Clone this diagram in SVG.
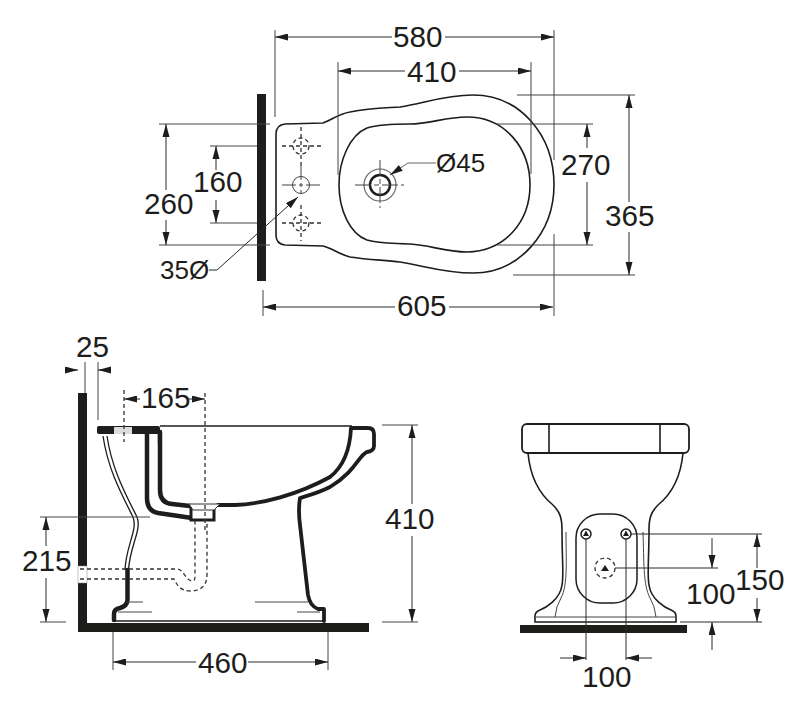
<svg xmlns="http://www.w3.org/2000/svg" width="806" height="711" viewBox="0 0 806 711">
<style>
text{font-family:"Liberation Sans",Arial,sans-serif;font-size:29.700px;fill:#1d1d1b}
.d{fill:none;stroke:#2a2a2a;stroke-width:1}
.e{fill:none;stroke:#444;stroke-width:1}
.m{fill:none;stroke:#1d1d1b;stroke-width:1.600}
.t{fill:none;stroke:#1d1d1b;stroke-width:4.500;stroke-linejoin:round;stroke-linecap:round}
.b{fill:none;stroke:#1d1d1b;stroke-width:3.800;stroke-linejoin:round;stroke-linecap:round}
.dash{fill:none;stroke:#333;stroke-width:1.300;stroke-dasharray:4 3}
.w{fill:#1d1d1b}
.o{font-size:26px}
</style>
<defs>
<marker id="m" markerUnits="userSpaceOnUse" markerWidth="14" markerHeight="8" refX="13" refY="3.500" orient="auto"><path d="M0 0L13 3.500L0 7z" fill="#1d1d1b"/></marker>
<marker id="s" markerUnits="userSpaceOnUse" markerWidth="14" markerHeight="8" refX="0" refY="3.500" orient="auto"><path d="M13 0L0 3.500L13 7z" fill="#1d1d1b"/></marker>
</defs>
<rect width="806" height="711" fill="#fff"/>

<g id="plan-view">
<rect class="w" x="257" y="94" width="9" height="187"/>
<path class="m" d="M323 123L285 124Q276 125 276 134V235Q276 244 285 245L323 246C332 248 338 254 350 257C370 260 385 260 400 262C425 266 445 273 473 273C520 273 554 232 554 185C554 135 520 95 473 95C445 95 425 103 400 107C385 108 370 108 350 112C338 114 332 120 323 123Z"/>
<path class="m" d="M410 124C395 124 380 124 367 128C350 135 339 160 339 185C339 210 350 234 367 240C380 244 395 243 410 244C430 245 445 252 467 252C505 251 530 222 530 185C530 148 505 117 467 117C445 117 430 124 410 124Z"/>
<circle cx="301" cy="185" r="8.500" fill="#fff" class="e"/>
<circle cx="301" cy="146" r="8" class="dash"/>
<circle cx="301" cy="223" r="8" class="dash"/>
<path class="e" d="M282 185H320M301 166V194" stroke-dasharray="14 3 4 3"/>
<path class="dash" d="M282 146H321M282 223H321M301 127V166M301 205V241"/>
<circle cx="380" cy="185" r="16" fill="none" stroke="#666" stroke-width="1.200"/>
<circle cx="380" cy="185" r="10" fill="#fff" stroke="#1d1d1b" stroke-width="2.500"/>
<path class="e" d="M355 185H404M380 160V208" stroke-dasharray="16 3 5 3"/>
</g>

<g id="side-view">
<rect class="w" x="78" y="393" width="9" height="239"/>
<rect class="w" x="78" y="623" width="291" height="9"/>
<rect x="78" y="566" width="9" height="17" fill="#fff" stroke="#888" stroke-width=".5"/>
<rect class="w" x="97" y="426" width="63" height="8" rx="2"/>
<rect x="114" y="427" width="18" height="7" fill="#ddd"/>
<rect x="157" y="434" width="4" height="10" fill="#ddd"/>
<path class="m" d="M160 426H352"/>
<path class="t" d="M147 432V498Q147 511 158 513L192 518M160 432V490Q160 503 172 504L190 506"/>
<path class="b" d="M218 505H235C262 504 297 495 330 477C344 466 350 450 351 428H368Q374 428 374 434V446Q374 451 367 452C358 456 357 470 330 487C318 493 310 495 300 498Q298 510 300 525L308 595Q310 606 318 609H324V621"/>
<path d="M191 507H214V520H191Z" fill="#fff" stroke="#1d1d1b" stroke-width="3"/>
<path d="M189 504H220L214 510H193Z" fill="#fff" stroke="#333"/>
<path d="M103 436C108 470 122 495 133 517C138 530 126 545 125 570M107 436C112 470 126 495 137 517C142 530 130 545 128.500 570" fill="none" stroke="#1d1d1b" stroke-width="1.300"/>
<path class="t" d="M127.500 570V600Q127 606 120 608Q114 609 114 614V620"/>
<path class="m" d="M115 621H323"/>
<path class="e" d="M127 602H143M118 612H152M255 602H308M297 612H320"/>
<path class="dash" d="M80 569H177C184 569 185 581 193 581Q195 581 195 576V520M80 579H174C177 585 180 591 191 591C200 591 207 586 207 575V520M205 393V530M124 390V442"/>
</g>

<g id="front-view">
<rect x="522" y="424" width="167" height="29" rx="5" fill="none" stroke="#1d1d1b" stroke-width="1.800"/>
<path class="m" d="M549 424V453M660 424V453"/>
<path class="m" d="M528 453C530 475 537 492 553 505C560 512 562 518 562 530C562 560 564 575 562 585C560 600 545 608 540 610Q535 612 535 616V622H676V616Q676 612 671 610C666 608 651 600 649 585C647 575 649 560 649 530C649 518 651 512 658 505C674 492 681 475 683 453"/>
<path class="e" d="M536 617H675"/>
<path class="e" d="M566 532C566 560 568 585 561 598Q556 606 555 617M643 532C644 560 643 585 650 598Q655 606 656 617"/>
<rect class="w" x="520" y="625" width="167" height="8"/>
<rect x="576" y="514" width="61" height="89" rx="24" fill="none" stroke="#1d1d1b" stroke-width="1.500"/>
<circle cx="586" cy="534" r="5" fill="none" stroke="#1d1d1b" stroke-width="1.500"/>
<circle cx="626" cy="534" r="5" fill="none" stroke="#1d1d1b" stroke-width="1.500"/>
<circle cx="605" cy="568" r="10" class="dash"/>
<path class="w" d="M586 530.500L589 536H583ZM626 530.500L629 536H623ZM605 565L609 571H601Z"/>
</g>

<g id="connectors">
<path class="e" d="M275 30V117M554 30V160M554 234V316M338 62V175M531 62V174M263 290V316"/>
<path class="d" d="M275 37H392" marker-start="url(#s)"/>
<path class="d" d="M445 37H554" marker-end="url(#m)"/>
<path class="d" d="M338 71H405" marker-start="url(#s)"/>
<path class="d" d="M459 71H531" marker-end="url(#m)"/>
<path class="d" d="M263 307H395" marker-start="url(#s)"/>
<path class="d" d="M449 307H553" marker-end="url(#m)"/>
<path class="e" d="M517 95H635M513 275H635M497 124H593M497 245H593M159 124H270M159 245H270M210 146H257M210 223H257"/>
<path class="d" d="M629 95V202" marker-start="url(#s)"/>
<path class="d" d="M629 232V275" marker-end="url(#m)"/>
<path class="d" d="M587 124V148" marker-start="url(#s)"/>
<path class="d" d="M587 182V245" marker-end="url(#m)"/>
<path class="d" d="M166 124V190" marker-start="url(#s)"/>
<path class="d" d="M166 220V245" marker-end="url(#m)"/>
<path class="d" d="M216 146V170" marker-start="url(#s)"/>
<path class="d" d="M216 200V223" marker-end="url(#m)"/>
<path class="d" d="M209 270H217L298 197" marker-end="url(#m)"/>
<path d="M436 163H408L390 175" fill="none" stroke="#666" marker-end="url(#m)"/>

<path class="e" d="M85 362V393M98 362V420M40 517H150M40 622H66M382 425H418M382 622H418M113 632V670M328 632V670"/>
<path class="d" d="M65 370H78" marker-end="url(#m)"/>
<path class="d" d="M111 370H98" marker-end="url(#m)"/>
<path class="d" d="M124 399H140" marker-start="url(#s)"/>
<path class="d" d="M189 399H205" marker-end="url(#m)"/>
<path class="d" d="M46 517V546" marker-start="url(#s)"/>
<path class="d" d="M46 578V622" marker-end="url(#m)"/>
<path class="d" d="M412 425V504" marker-start="url(#s)"/>
<path class="d" d="M412 536V622" marker-end="url(#m)"/>
<path class="d" d="M113 662H196" marker-start="url(#s)"/>
<path class="d" d="M248 662H328" marker-end="url(#m)"/>

<path class="d" d="M586 539V660M626 539V660M631 534H762M615 568H718M680 622H762"/>
<path class="d" d="M560 658H586" marker-end="url(#m)"/>
<path class="d" d="M652 658H626" marker-end="url(#m)"/>
<path class="d" d="M712 538V568" marker-end="url(#m)"/>
<path class="d" d="M712 650V622" marker-end="url(#m)"/>
<path class="d" d="M757 534V568" marker-start="url(#s)"/>
<path class="d" d="M757 598V622" marker-end="url(#m)"/>
</g>

<g id="labels">
<text x="393" y="47">580</text>
<text x="407" y="82">410</text>
<text x="397" y="316">605</text>
<text x="605" y="226">365</text>
<text x="561" y="175">270</text>
<text x="144" y="214">260</text>
<text x="193" y="192">160</text>
<text x="160" y="279" class="o">35Ø</text>
<text x="436" y="172" class="o">Ø45</text>
<text x="76" y="357">25</text>
<text x="141" y="408">165</text>
<text x="22" y="571">215</text>
<text x="385" y="529">410</text>
<text x="198" y="673">460</text>
<text x="582" y="687">100</text>
<text x="686" y="604">100</text>
<text x="735" y="590">150</text>
</g>
</svg>
